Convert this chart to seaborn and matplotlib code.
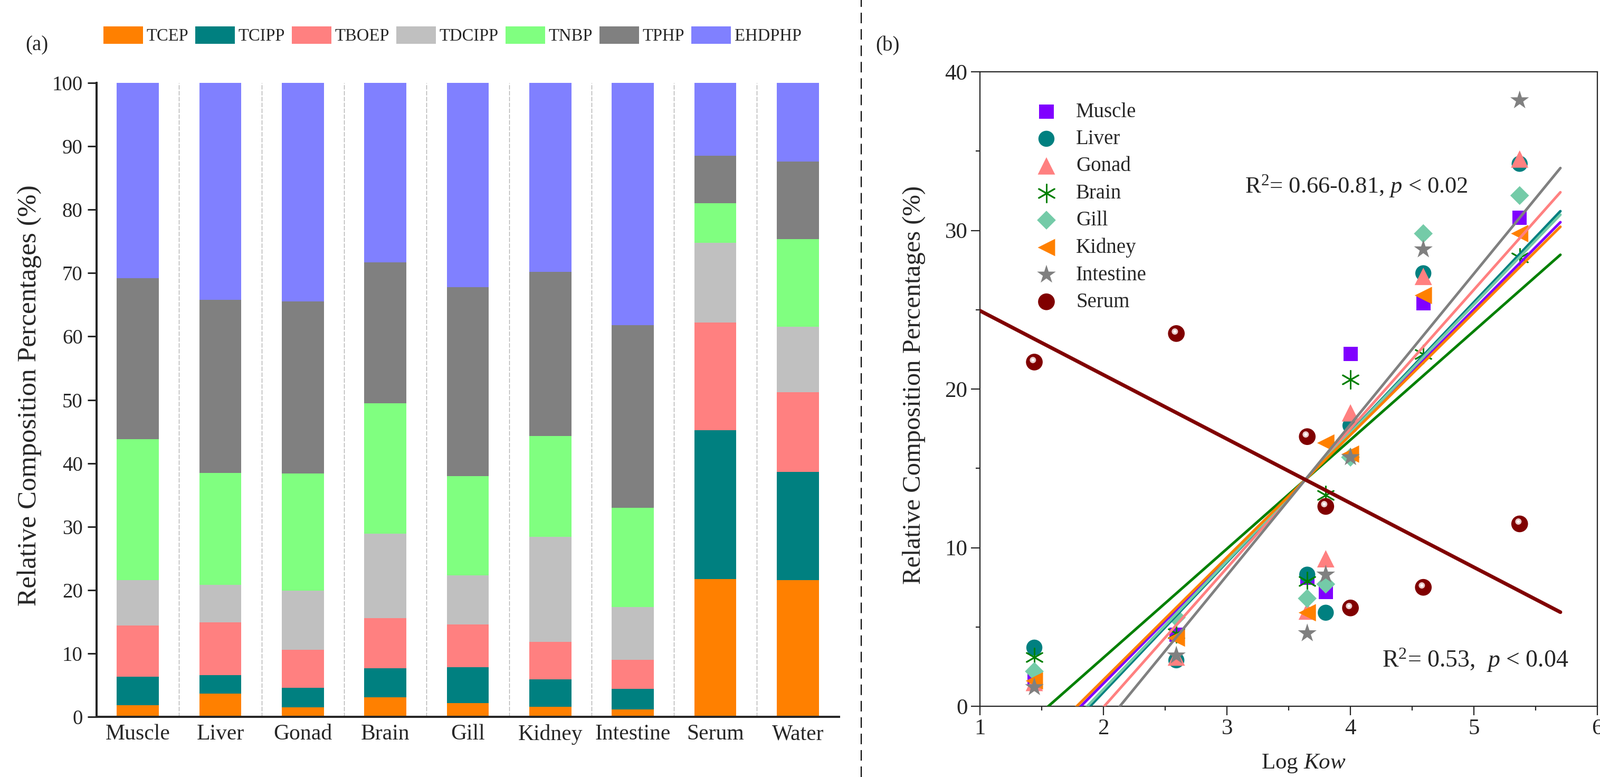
import numpy as np
import pandas as pd
import matplotlib
matplotlib.use("Agg")
import matplotlib.pyplot as plt
import seaborn as sns
from matplotlib.patches import Patch
from matplotlib.lines import Line2D
from matplotlib.markers import MarkerStyle
from matplotlib.transforms import Affine2D
from matplotlib.ticker import MultipleLocator

# ---------------- data ----------------
compounds = ["TCEP", "TCIPP", "TBOEP", "TDCIPP", "TNBP", "TPHP", "EHDPHP"]
tissues = ["Muscle", "Liver", "Gonad", "Brain", "Gill", "Kidney", "Intestine", "Serum", "Water"]
log_kow = [1.44, 2.59, 3.65, 3.80, 4.00, 4.59, 5.37]

muscle = [1.8, 4.5, 8.1, 7.2, 22.2, 25.4, 30.8]
liver = [3.7, 2.9, 8.3, 5.9, 17.7, 27.3, 34.2]
gonad = [1.5, 3.1, 6.0, 9.3, 18.5, 27.1, 34.5]
brain = [3.1, 4.6, 7.9, 13.3, 20.6, 22.2, 28.3]
gill = [2.2, 5.6, 6.8, 7.7, 15.7, 29.8, 32.2]
kidney = [1.6, 4.3, 5.9, 16.6, 15.9, 25.9, 29.8]
intestine = [1.2, 3.2, 4.6, 8.3, 15.7, 28.8, 38.2]
serum = [21.7, 23.5, 17.0, 12.6, 6.2, 7.5, 11.5]
water = [21.6, 17.0, 12.6, 10.3, 13.9, 12.2, 12.4]

bar_colors = ["#FF8000", "#008080", "#FF8080", "#C0C0C0", "#80FF80", "#808080", "#8080FF"]

scatter_tissues = ["Muscle", "Liver", "Gonad", "Brain", "Gill", "Kidney", "Intestine", "Serum"]
scatter_colors = ["#8000FF", "#008080", "#FF8080", "#008000", "#74CBA8", "#FF8000", "#808080", "#800000"]
scatter_markers = ["s", "o", "^", (6, 2, 0), "D", "<", "*", "o"]
scatter_sizes = [380, 480, 560, 600, 330, 560, 720, 520]

# ---------------- style ----------------
sns.set_style("ticks")
plt.rcParams["font.family"] = ["Liberation Serif", "DejaVu Serif"]
plt.rcParams["mathtext.fontset"] = "custom"
plt.rcParams["mathtext.rm"] = "Liberation Serif"
plt.rcParams["mathtext.it"] = "Liberation Serif:italic"
plt.rcParams["axes.unicode_minus"] = False

fig = plt.figure(figsize=(30.32, 14.72), dpi=100)
axa = fig.add_axes([0.0604, 0.0774, 0.4640, 0.8159])
axb = fig.add_axes([0.6125, 0.0910, 0.3859, 0.8166])

# ---------------- panel (a): stacked bars ----------------
table = pd.DataFrame([muscle, liver, gonad, brain, gill, kidney, intestine, serum, water],
                     index=tissues, columns=compounds)
cum = table.cumsum(axis=1)
for k in reversed(range(len(compounds))):
    sns.barplot(x=tissues, y=cum[compounds[k]].values, color=bar_colors[k],
                saturation=1, width=0.51, linewidth=0, errorbar=None, ax=axa)

axa.set_xlim(-0.5, len(tissues) - 0.5)
axa.set_ylim(0, 100)
axa.set_yticks(np.arange(0, 101, 10))
for xs in np.arange(len(tissues) - 1) + 0.5:
    axa.axvline(xs, ymin=0, ymax=1, color="#B0B0B0", lw=1.0, ls=(0, (6, 2)), zorder=0)
for s in ["top", "right"]:
    axa.spines[s].set_visible(False)
axa.spines["left"].set_linewidth(2.9)
axa.spines["bottom"].set_linewidth(2.9)
axa.tick_params(axis="y", direction="out", length=12, width=2.2, labelsize=28, pad=7)
axa.tick_params(axis="x", length=0, labelsize=30, pad=10)
axa.set_ylabel("Relative Composition Percentages (%)", fontsize=37)
axa.yaxis.set_label_coords(-0.074, 0.507)
axa.set_xlabel("")

handles = [Patch(facecolor=c, edgecolor="none") for c in bar_colors]
fig.legend(handles, compounds, ncol=7, loc="center left",
           bbox_to_anchor=(196 / 3032, 1 - 67 / 1472), frameon=False, fontsize=23.5,
           handlelength=2.3, handleheight=1.2, handletextpad=0.2, columnspacing=0.4,
           borderpad=0, borderaxespad=0)

# ---------------- panel (b): scatter + regression ----------------
series = [muscle, liver, gonad, brain, gill, kidney, intestine, serum]
for name, vals, col, mk, sz in zip(scatter_tissues, series, scatter_colors, scatter_markers, scatter_sizes):
    ms = MarkerStyle(mk)
    if ms.is_filled():
        sns.scatterplot(x=log_kow, y=vals, marker=mk, s=sz, color=col, edgecolor="none",
                        linewidth=0, label=name, ax=axb, zorder=3)
    else:
        sns.scatterplot(x=log_kow, y=vals, marker=mk, s=sz, color=col, edgecolor=col,
                        linewidth=2.0, label=name, ax=axb, zorder=3)

# sphere highlight on serum markers
hl = MarkerStyle("o", transform=Affine2D().scale(0.38).translate(-0.1, 0.14))
axb.scatter(log_kow, serum, marker=hl, s=520, color="#E9C9C9", linewidth=0, zorder=4)
hl2 = MarkerStyle("o", transform=Affine2D().scale(0.18).translate(-0.1, 0.14))
axb.scatter(log_kow, serum, marker=hl2, s=520, color="#FFFFFF", linewidth=0, zorder=4)

axb.set_xlim(1, 5.7)
axb.set_ylim(0, 40)
for name, vals, col in zip(scatter_tissues, series, scatter_colors):
    lw = 5.0 if name == "Serum" else 3.6
    sns.regplot(x=log_kow, y=vals, scatter=False, ci=None, truncate=False, color=col,
                line_kws={"lw": lw, "zorder": 5}, ax=axb)

axb.set_xlim(1, 6)
axb.set_ylim(0, 40)
axb.xaxis.set_major_locator(MultipleLocator(1))
axb.xaxis.set_minor_locator(MultipleLocator(0.5))
axb.yaxis.set_major_locator(MultipleLocator(10))
axb.yaxis.set_minor_locator(MultipleLocator(5))
for s in axb.spines.values():
    s.set_linewidth(1.6)
    s.set_visible(True)
axb.tick_params(which="major", direction="out", length=12, width=1.6, labelsize=31, pad=5)
axb.tick_params(which="minor", direction="out", length=6, width=1.6)
axb.set_ylabel("Relative Composition Percentages (%)", fontsize=35)
axb.yaxis.set_label_coords(-0.088, 0.506)
axb.set_xlabel("Log $\\it{Kow}$", fontsize=31)
axb.xaxis.set_label_coords(0.524, -0.073)

leg = axb.legend(loc="upper left", bbox_to_anchor=(0.081, 0.952), frameon=False, fontsize=28,
                 handlelength=1.6, handletextpad=0.64, labelspacing=0.37, borderpad=0,
                 borderaxespad=0, scatterpoints=1)

axb.text(0.610, 0.8195, "R$^2$= 0.66-0.81, $p$ < 0.02", transform=axb.transAxes,
         ha="center", va="center", fontsize=32)
axb.text(0.802, 0.0724, "R$^2$= 0.53,  $p$ < 0.04", transform=axb.transAxes,
         ha="center", va="center", fontsize=33)

# panel letters and separator
fig.text(70 / 3032, 1 - 86 / 1472, "(a)", fontsize=28, ha="center", va="center")
fig.text(1682 / 3032, 1 - 87 / 1472, "(b)", fontsize=28, ha="center", va="center")
fig.add_artist(Line2D([1632 / 3032, 1632 / 3032], [0, 1], transform=fig.transFigure,
                      color="black", lw=1.5, ls=(0, (9.6, 5.3))))

fig.savefig("out.png", dpi=100)
